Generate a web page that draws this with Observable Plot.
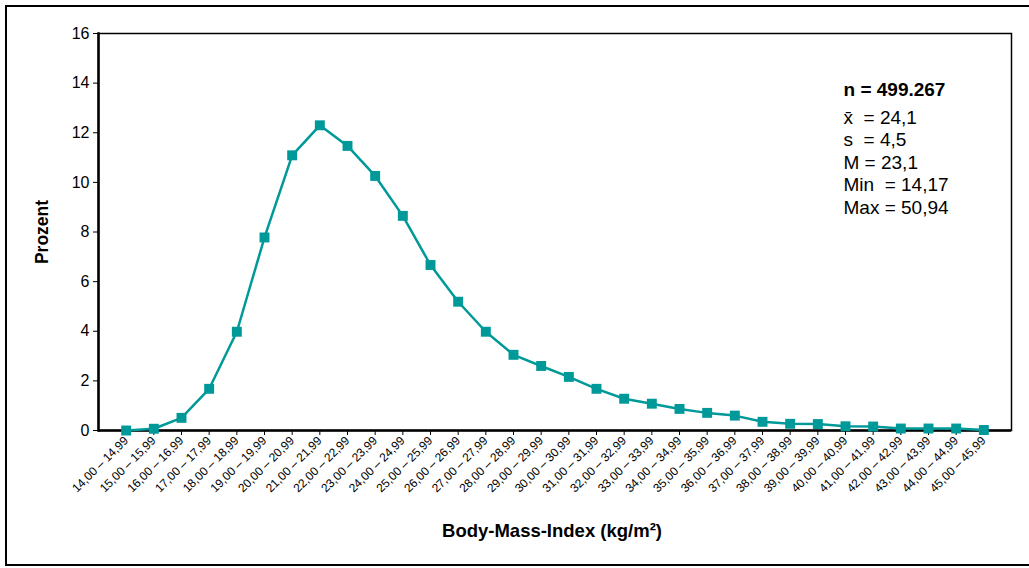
<!DOCTYPE html>
<html>
<head>
<meta charset="utf-8">
<script src="https://cdn.jsdelivr.net/npm/d3@7"></script>
<script src="https://cdn.jsdelivr.net/npm/@observablehq/plot@0.6"></script>
<style>
  html, body { margin: 0; padding: 0; background: #fff; }
  #chart svg { display: block; font-family: "Liberation Sans", Arial, sans-serif; }
</style>
</head>
<body>
<div id="chart"></div>
<script>
// BMI class lower bounds (kg/m²)
const classStarts = [14,15,16,17,18,19,20,21,22,23,24,25,26,27,28,29,30,31,32,33,34,35,36,37,38,39,40,41,42,43,44,45];
// Category labels
const categories = classStarts.map(v => `${v},00 – ${v},99`);
// Percent of persons per BMI class
const percent = [0.0, 0.07, 0.51, 1.68, 3.98, 7.78, 11.09, 12.3, 11.47, 10.26, 8.65, 6.67, 5.19, 3.98, 3.05, 2.6, 2.16, 1.68, 1.28, 1.08, 0.87, 0.71, 0.6, 0.35, 0.27, 0.26, 0.17, 0.16, 0.08, 0.08, 0.08, 0.02];
// Y tick values
const yTicks = [0, 2, 4, 6, 8, 10, 12, 14, 16];
// Summary statistics
const statsHead = "n = 499.267";
const statsLines = ["x\u0304\u00a0 = 24,1", "s\u00a0 = 4,5", "M = 23,1", "Min\u00a0 = 14,17", "Max = 50,94"];

const data = categories.map((c, i) => ({cat: c, value: percent[i]}));
const teal = "#009999";
const font = "'Liberation Sans', Arial, sans-serif";

const statsX = 843 - 98;
const plot = Plot.plot({
  width: 1029,
  height: 568,
  marginLeft: 98,
  marginRight: 18,
  marginTop: 33,
  marginBottom: 138,
  style: {fontFamily: font, background: "white", color: "black"},
  x: {type: "point", domain: categories, padding: 1, round: false},
  y: {domain: [0, 16]},
  marks: [
    Plot.frame({stroke: "black", strokeWidth: 1.5}),
    Plot.axisY({ticks: yTicks, tickSize: 5, tickPadding: 4, fontSize: 16, label: null, tickFormat: d => String(d)}),
    Plot.axisX({tickRotate: -45, tickSize: 5, tickPadding: 3, fontSize: 12, label: null}),
    Plot.ruleY([0], {stroke: "black", strokeWidth: 2.5}),
    Plot.frame({anchor: "left", stroke: "black", strokeWidth: 2.5}),
    Plot.line(data, {x: "cat", y: "value", stroke: teal, strokeWidth: 2.5}),
    Plot.dot(data, {x: "cat", y: "value", symbol: "square", r: 5.6, fill: teal, stroke: "none"}),
    Plot.text(["Prozent"], {frameAnchor: "left", dx: -56, rotate: -90, fontSize: 17.5, fontWeight: "bold", textAnchor: "middle"}),
    Plot.text(["Body-Mass-Index (kg/m²)"], {frameAnchor: "bottom", dy: 106, dx: -3, fontSize: 18.5, fontWeight: "bold", textAnchor: "middle"}),
    Plot.text([statsHead], {frameAnchor: "top-left", dx: statsX, dy: 89 - 33, textAnchor: "start", lineAnchor: "middle", fontSize: 19, fontWeight: "bold"}),
    ...statsLines.map((s, i) => Plot.text([s], {frameAnchor: "top-left", dx: statsX, dy: 117 - 33 + i * 22.5, textAnchor: "start", lineAnchor: "middle", fontSize: 19}))
  ]
});

document.getElementById("chart").appendChild(plot);
d3.select(plot).append("rect")
  .attr("x", 6).attr("y", 6).attr("width", 1040).attr("height", 559)
  .attr("fill", "none").attr("stroke", "black").attr("stroke-width", 2);
</script>
</body>
</html>
